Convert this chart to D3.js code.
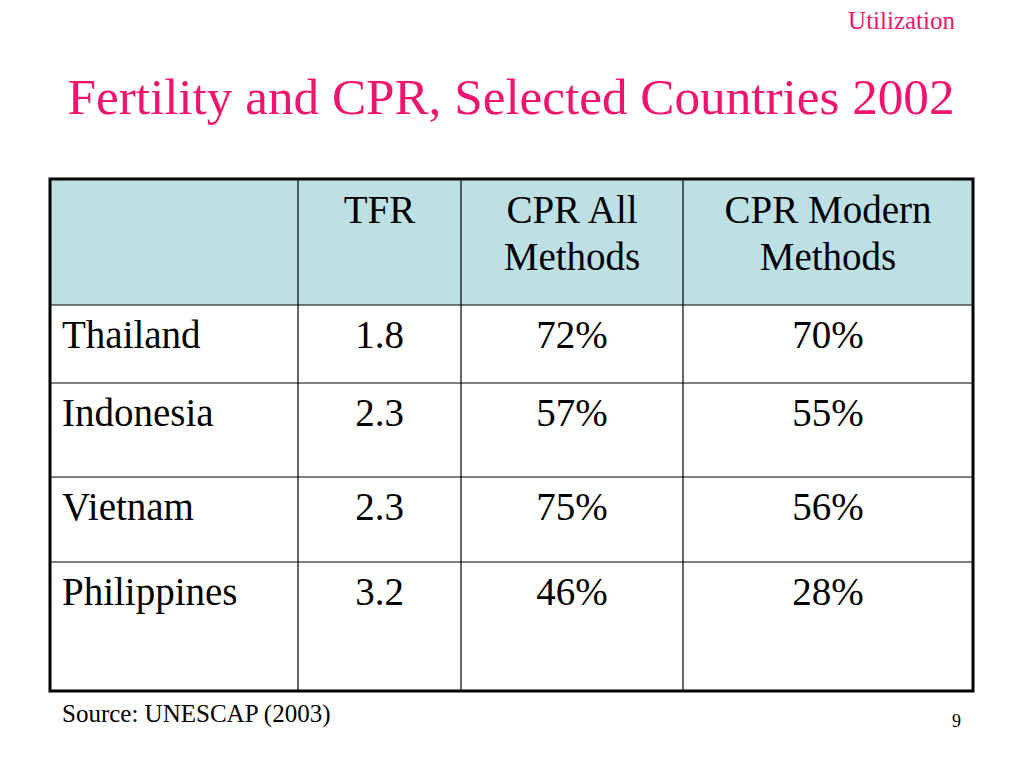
<!DOCTYPE html>
<html><head><meta charset="utf-8">
<script src="https://cdn.jsdelivr.net/npm/d3@7"></script>
<style>body{margin:0;background:#fff}</style>
</head><body>
<svg id="c" width="1024" height="768"></svg>
<script>
const headers = [[""], ["TFR"], ["CPR All", "Methods"], ["CPR Modern", "Methods"]];
const countries = ["Thailand", "Indonesia", "Vietnam", "Philippines"];
const tfr = ["1.8", "2.3", "2.3", "3.2"];
const cprAll = ["72%", "57%", "75%", "46%"];
const cprModern = ["70%", "55%", "56%", "28%"];

const svg = d3.select("#c");
const font = "'Liberation Serif', 'Times New Roman', serif";
const pink = "#f0146e";

svg.append("text").attr("x", 955).attr("y", 29).attr("text-anchor", "end")
  .attr("font-family", font).attr("font-size", 25).attr("fill", pink).text("Utilization");
svg.append("text").attr("x", 511).attr("y", 114).attr("text-anchor", "middle")
  .attr("font-family", font).attr("font-size", 51).attr("fill", pink)
  .attr("textLength", 887).attr("lengthAdjust", "spacingAndGlyphs")
  .text("Fertility and CPR, Selected Countries 2002");

// column and row edges
const colEdges = [50, 298, 461, 683, 973];
const rowEdges = [179, 305, 383, 477, 562, 691];

const rows = countries.map((c, i) => [c, tfr[i], cprAll[i], cprModern[i]]);

svg.append("rect").attr("x", colEdges[0]).attr("y", rowEdges[0])
  .attr("width", colEdges[4] - colEdges[0]).attr("height", rowEdges[1] - rowEdges[0])
  .attr("fill", "#bde0e5");

const g = svg.append("g").attr("font-family", font).attr("font-size", 39).attr("fill", "#000");

headers.forEach((lines, j) => {
  const cx = (colEdges[j] + colEdges[j + 1]) / 2;
  lines.forEach((t, k) => {
    g.append("text").attr("x", cx).attr("y", rowEdges[0] + 44 + k * 47)
      .attr("text-anchor", "middle").text(t);
  });
});

rows.forEach((r, i) => {
  const y = rowEdges[i + 1] + 43;
  r.forEach((t, j) => {
    const txt = g.append("text").attr("y", y).text(t);
    if (j === 0) txt.attr("x", colEdges[0] + 12);
    else txt.attr("x", (colEdges[j] + colEdges[j + 1]) / 2).attr("text-anchor", "middle");
  });
});

const lines = svg.append("g").attr("stroke", "#000");
colEdges.slice(1, -1).forEach(x => lines.append("line")
  .attr("x1", x).attr("x2", x).attr("y1", rowEdges[0]).attr("y2", rowEdges[5]).attr("stroke-width", 1.2));
rowEdges.slice(1, -1).forEach(y => lines.append("line")
  .attr("x1", colEdges[0]).attr("x2", colEdges[4]).attr("y1", y).attr("y2", y).attr("stroke-width", 1.2));
svg.append("rect").attr("x", colEdges[0]).attr("y", rowEdges[0])
  .attr("width", colEdges[4] - colEdges[0]).attr("height", rowEdges[5] - rowEdges[0])
  .attr("fill", "none").attr("stroke", "#000").attr("stroke-width", 3);

svg.append("text").attr("x", 62).attr("y", 722).attr("font-family", font)
  .attr("font-size", 25).text("Source: UNESCAP (2003)");
svg.append("text").attr("x", 961).attr("y", 727).attr("text-anchor", "end").attr("font-family", font)
  .attr("font-size", 18).text("9");
</script>
</body></html>
